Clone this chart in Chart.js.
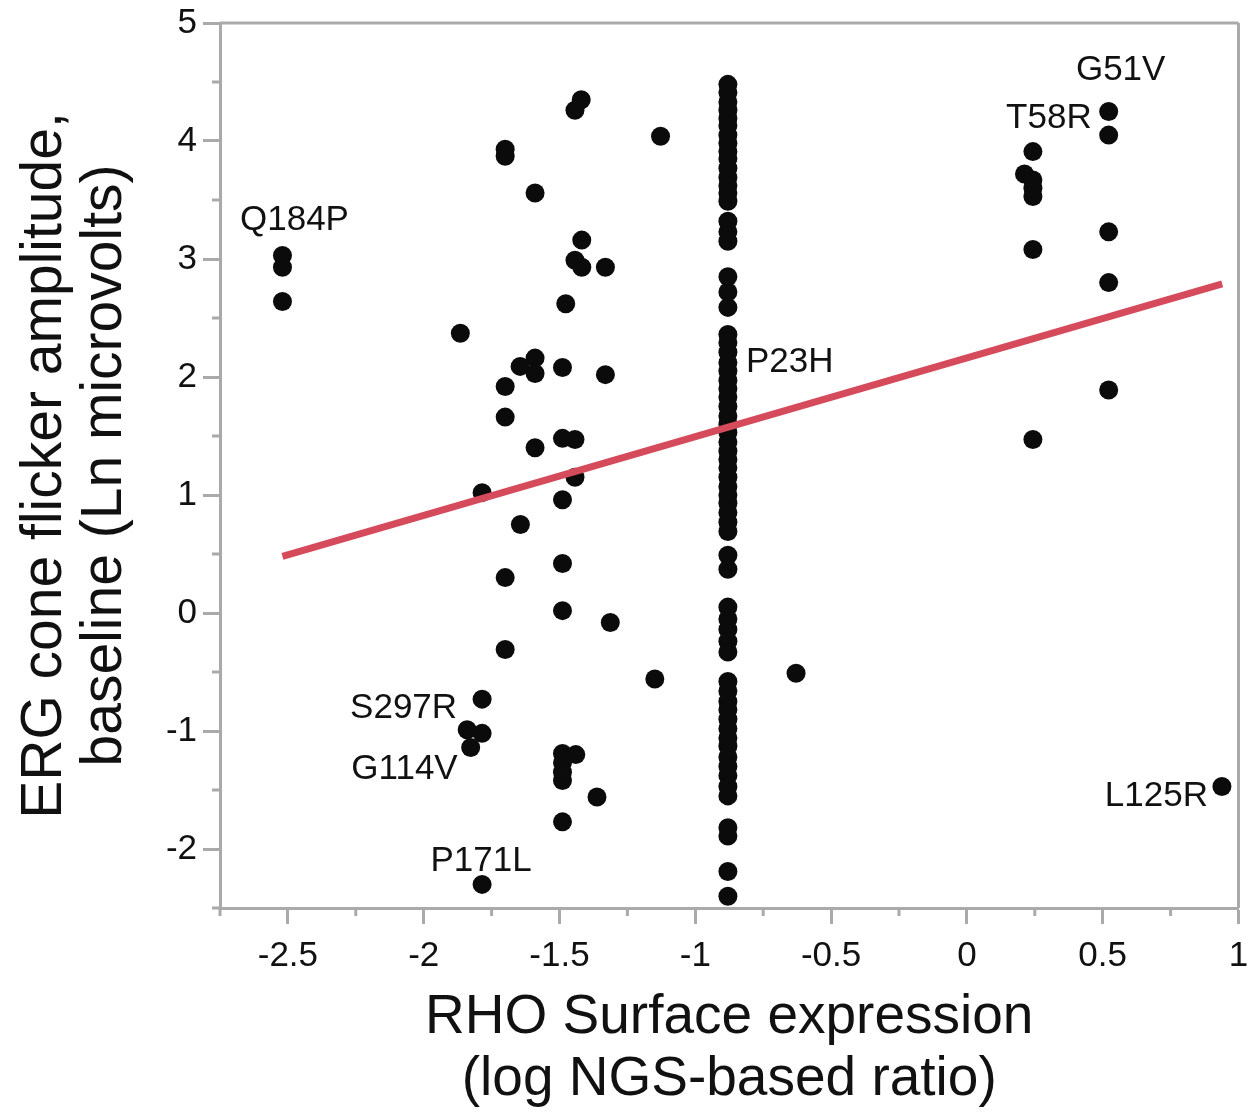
<!DOCTYPE html>
<html>
<head>
<meta charset="utf-8">
<script src="https://cdn.jsdelivr.net/npm/chart.js@4.4.1/dist/chart.umd.min.js"></script>
<style>
html,body{margin:0;padding:0;background:#ffffff;}
#wrap{width:1248px;height:1113px;}
</style>
</head>
<body>
<div id="wrap"><canvas id="c" width="1248" height="1113"></canvas></div>
<script>
// ---- data ----
const scatterX = [
  -2.52, -2.52, -2.52,
  -1.865,
  -1.70, -1.70, -1.70, -1.70, -1.70, -1.70,
  -1.785, -1.785, -1.785, -1.785,
  -1.84, -1.827,
  -1.645, -1.644,
  -1.59, -1.59, -1.59, -1.59,
  -1.477,
  -1.489, -1.489, -1.489, -1.489, -1.489, -1.489, -1.489, -1.489, -1.489, -1.489,
  -1.443, -1.42,
  -1.443, -1.418, -1.418,
  -1.443, -1.443, -1.44,
  -1.331, -1.331,
  -1.313, -1.362,
  -1.128, -1.149,
  -0.629,
  0.212, 0.243, 0.243, 0.243, 0.243, 0.243, 0.243,
  0.522, 0.522, 0.522, 0.522, 0.522,
  0.939
];
const scatterY = [
  3.03, 2.93, 2.64,
  2.37,
  3.93, 3.87, 1.92, 1.66, 0.30, -0.31,
  1.02, -0.73, -1.02, -2.30,
  -0.99, -1.14,
  2.09, 0.75,
  3.56, 2.16, 2.03, 1.40,
  2.62,
  2.08, 1.48, 0.96, 0.42, 0.02, -1.19, -1.27, -1.35, -1.42, -1.77,
  4.26, 4.35,
  2.99, 2.93, 3.16,
  1.47, 1.15, -1.20,
  2.93, 2.02,
  -0.08, -1.56,
  4.04, -0.56,
  -0.51,
  3.72, 3.91, 3.67, 3.60, 3.53, 3.08, 1.47,
  4.25, 4.05, 3.23, 2.80, 1.89,
  -1.47
];
const p23hX = -0.88;
const p23hY = [
  4.48, 4.41, 4.33, 4.26, 4.19, 4.13, 4.05, 3.98, 3.91, 3.85, 3.77, 3.69, 3.62, 3.56, 3.49,
  3.32, 3.23, 3.15,
  2.85, 2.72, 2.59,
  2.36, 2.29, 2.21, 2.12, 2.05, 1.97, 1.90, 1.83, 1.75, 1.67, 1.60, 1.53, 1.45, 1.37, 1.30,
  1.23, 1.15, 1.07, 1.00, 0.93, 0.85, 0.77, 0.69,
  0.49, 0.37,
  0.05, -0.05, -0.14, -0.24, -0.33,
  -0.58, -0.66, -0.75, -0.82, -0.90, -0.98, -1.06, -1.13, -1.22, -1.30, -1.38, -1.47, -1.55,
  -1.82, -1.89,
  -2.19,
  -2.40
];
const fitX = [-2.52, 0.94];
const fitY = [0.48, 2.79];
const labelNames = ['Q184P', 'G51V', 'T58R', 'P23H', 'S297R', 'G114V', 'L125R', 'P171L'];
const labelX = [-2.52, 0.522, 0.243, -0.88, -1.785, -1.827, 0.939, -1.785];
const labelY = [3.03, 4.25, 3.91, 2.12, -0.73, -1.14, -1.47, -2.30];
const xTitle = ['RHO Surface expression', '(log NGS-based ratio)'];
const yTitle = ['ERG cone flicker amplitude,', 'baseline (Ln microvolts)'];

// ---- styling ----
const FONT = '"Liberation Sans", Arial, Helvetica, sans-serif';
const FRAME = '#aaaaaa';
const labelLayout = [
  {align: 'center', dx: 12, dy: -35},
  {align: 'center', dx: 12, dy: -41},
  {align: 'center', dx: 16, dy: -33},
  {align: 'left', dx: 18, dy: 0},
  {align: 'right', dx: -25, dy: 9},
  {align: 'right', dx: -13, dy: 22},
  {align: 'right', dx: -14, dy: 10},
  {align: 'center', dx: -1, dy: -23}
];

const points = [];
for (let i = 0; i < scatterX.length; i++) points.push({x: scatterX[i], y: scatterY[i]});
for (let i = 0; i < p23hY.length; i++) points.push({x: p23hX, y: p23hY[i]});
const fitLine = fitX.map((x, i) => ({x: x, y: fitY[i]}));

function isMajor(v, step) {
  const r = v / step;
  return Math.abs(r - Math.round(r)) < 1e-9;
}

const framePlugin = {
  id: 'frameAndMinor',
  afterDraw(chart) {
    const {ctx, chartArea: a, scales} = chart;
    ctx.save();
    ctx.strokeStyle = FRAME;
    ctx.lineWidth = 3;
    ctx.beginPath();
    ctx.moveTo(a.left, a.top); ctx.lineTo(a.right, a.top);
    ctx.moveTo(a.right, a.top); ctx.lineTo(a.right, a.bottom);
    ctx.stroke();
    // minor ticks
    ctx.beginPath();
    scales.x.ticks.forEach(t => {
      if (!isMajor(t.value, 0.5)) {
        const px = scales.x.getPixelForValue(t.value);
        ctx.moveTo(px, a.bottom); ctx.lineTo(px, a.bottom + 8);
      }
    });
    scales.y.ticks.forEach(t => {
      if (!isMajor(t.value, 1)) {
        const py = scales.y.getPixelForValue(t.value);
        ctx.moveTo(a.left, py); ctx.lineTo(a.left - 8, py);
      }
    });
    ctx.stroke();
    ctx.restore();
  },
  afterDatasetsDraw(chart) {
    const {ctx, scales} = chart;
    ctx.save();
    ctx.fillStyle = '#111111';
    ctx.font = '35px ' + FONT;
    ctx.textBaseline = 'middle';
    labelNames.forEach((name, i) => {
      const L = labelLayout[i];
      const px = scales.x.getPixelForValue(labelX[i]) + L.dx;
      const py = scales.y.getPixelForValue(labelY[i]) + L.dy;
      ctx.textAlign = L.align;
      ctx.fillText(name, px, py);
    });
    ctx.restore();
  }
};

new Chart(document.getElementById('c'), {
  type: 'scatter',
  data: {
    datasets: [
      {
        type: 'line',
        data: fitLine,
        borderColor: '#d64b5b',
        borderWidth: 7,
        pointRadius: 0,
        fill: false,
        tension: 0,
        order: 0
      },
      {
        data: points,
        backgroundColor: '#0b0b0b',
        borderWidth: 0,
        pointRadius: 9.5,
        pointHoverRadius: 9.5,
        order: 1
      }
    ]
  },
  options: {
    responsive: false,
    animation: false,
    devicePixelRatio: 1,
    clip: false,
    layout: {padding: {top: 23, right: 9, left: 0, bottom: 0}},
    plugins: {legend: {display: false}, tooltip: {enabled: false}},
    scales: {
      x: {
        type: 'linear',
        min: -2.75,
        max: 1,
        ticks: {
          stepSize: 0.25,
          autoSkip: false,
          maxRotation: 0,
          padding: 11,
          color: '#111111',
          font: {family: FONT, size: 35},
          callback: v => isMajor(v, 0.5) ? String(v) : ''
        },
        grid: {
          drawOnChartArea: false,
          drawTicks: true,
          tickLength: 16,
          tickWidth: 3,
          tickColor: c => (c.tick && isMajor(c.tick.value, 0.5)) ? FRAME : 'rgba(0,0,0,0)'
        },
        border: {display: true, color: FRAME, width: 3},
        title: {
          display: true,
          text: xTitle,
          color: '#111111',
          font: {family: FONT, size: 55, lineHeight: '62px'},
          padding: {top: 0, bottom: 2}
        },
        afterFit: s => { s.height = 205; s.paddingLeft = 0; s.paddingRight = 0; }
      },
      y: {
        type: 'linear',
        min: -2.5,
        max: 5,
        ticks: {
          stepSize: 0.5,
          autoSkip: false,
          padding: 6,
          color: '#111111',
          font: {family: FONT, size: 35},
          callback: v => isMajor(v, 1) ? String(v) : ''
        },
        grid: {
          drawOnChartArea: false,
          drawTicks: true,
          tickLength: 17,
          tickWidth: 3,
          tickColor: c => (c.tick && isMajor(c.tick.value, 1)) ? FRAME : 'rgba(0,0,0,0)'
        },
        border: {display: true, color: FRAME, width: 3},
        title: {
          display: true,
          text: yTitle,
          color: '#111111',
          font: {family: FONT, size: 57, lineHeight: '60px'},
          padding: {top: 15, bottom: 0}
        },
        afterFit: s => { s.width = 220; s.paddingTop = 0; s.paddingBottom = 0; }
      }
    }
  },
  plugins: [framePlugin]
});
</script>
</body>
</html>
